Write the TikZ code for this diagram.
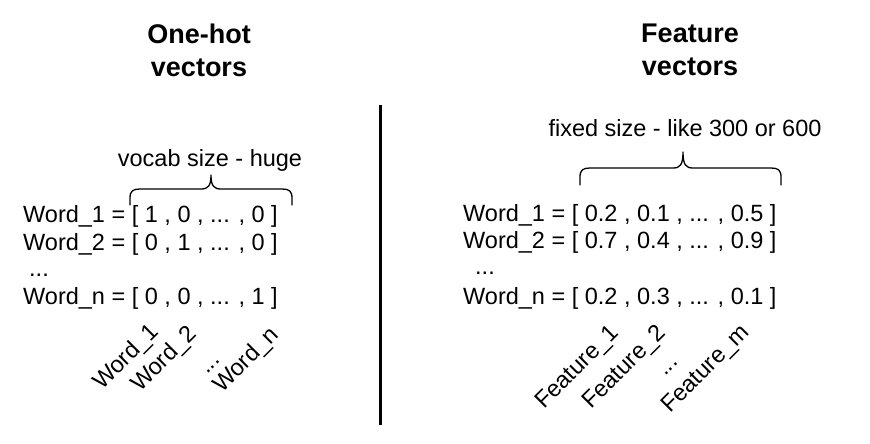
\documentclass[tikz,border=0pt]{standalone}
\usepackage{fontspec}
\setmainfont{Liberation Sans}
\begin{document}
\begin{tikzpicture}[x=1pt,y=-1pt,
  txt/.style={font=\fontsize{23.5}{28}\selectfont, inner sep=0, anchor=base west},
  ctxt/.style={font=\fontsize{23.5}{28}\selectfont, inner sep=0, anchor=base},
  ttl/.style={font=\fontsize{27}{33}\selectfont\bfseries, align=center, inner sep=0},
  rot/.style={txt, rotate=45},
  bracepath/.style={line width=1.3pt, line cap=round, line join=round}]
\useasboundingbox (0,0) rectangle (870,444);

% titles
\node[ttl] (t1) at (199,50) {One-hot\\vectors};
\node[ttl] (t2) at (690,50) {Feature\\vectors};

% separator
\coordinate (sepTop) at (380,105);
\coordinate (sepBot) at (380,425);
\draw[line width=3pt] (sepTop) -- (sepBot);

% left brace and label
\node[ctxt] (lb) at (210,166) {vocab size - huge};
\draw[bracepath] (130,205) -- (130,198) .. controls (130,191) and (133,189) .. (140,189)
  -- (201,189) .. controls (208,189) and (211,186) .. (211,175)
  .. controls (211,186) and (214,189) .. (221,189)
  -- (282,189) .. controls (289,189) and (292,191) .. (292,198) -- (292,205);

\node[txt] (lw1) at (23,222) {Word\_1 = [ 1 , 0 , ... , 0 ]};
\node[txt] (lw2) at (23,250) {Word\_2 = [ 0 , 1 , ... , 0 ]};
\node[txt] (ldots) at (29,276) {...};
\node[txt] (lwn) at (23,304) {Word\_n = [ 0 , 0 , ... , 1 ]};

\node[rot] (lc1) at (102,391) {Word\_1};
\node[rot] (lc2) at (140,393) {Word\_2};
\node[rot] (lcd) at (207,375) {...};
\node[rot] (lcn) at (222,394) {Word\_n};

% right brace and label
\node[ctxt] (rb) at (685,136) {fixed size - like 300 or 600};
\draw[bracepath] (580,185) -- (580,177) .. controls (580,170) and (583,168) .. (590,168)
  -- (673,168) .. controls (680,168) and (683,165) .. (683,152)
  .. controls (683,165) and (686,168) .. (693,168)
  -- (771,168) .. controls (778,168) and (781,170) .. (781,177) -- (781,185);

\node[txt] (rw1) at (463,221) {Word\_1 = [ 0.2 , 0.1 , ... , 0.5 ]};
\node[txt] (rw2) at (463,248) {Word\_2 = [ 0.7 , 0.4 , ... , 0.9 ]};
\node[txt] (rdots) at (475,274) {...};
\node[txt] (rwn) at (463,304) {Word\_n = [ 0.2 , 0.3 , ... , 0.1 ]};

\node[rot] (rc1) at (544,410) {Feature\_1};
\node[rot] (rc2) at (591,410) {Feature\_2};
\node[rot] (rcd) at (665,377) {...};
\node[rot] (rcm) at (670,414) {Feature\_m};
\end{tikzpicture}
\end{document}
